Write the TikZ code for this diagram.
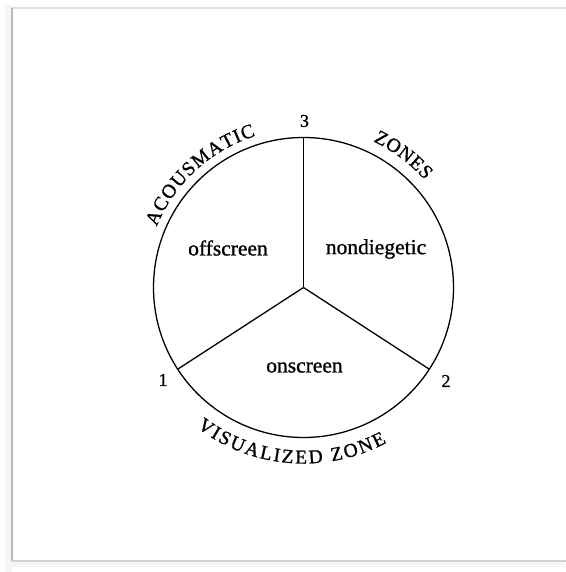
\documentclass[tikz,border=0pt]{standalone}
\usepackage{fontspec}
\setmainfont{Liberation Serif}[FakeBold=1]
\usetikzlibrary{decorations.text}
\newcommand\capfont{\fontsize{19.5}{22}\selectfont}
\begin{document}
\begin{tikzpicture}[x=1pt,y=1pt,
  ring/.style={line width=1.3pt},
  spoke/.style={line width=1.3pt},
  zone/.style={font=\fontsize{21.5}{24}\selectfont, inner sep=0pt},
  num/.style={font=\fontsize{18}{20}\selectfont, inner sep=0pt},
  arctext/.style={font=\capfont, decorate, decoration={text along path, text align=fit to path, text={|\capfont|#1}}}
]
\useasboundingbox (0,0) rectangle (565,572);
\fill[white] (0,0) rectangle (565,572);
% frame with soft shadow
\fill[gray!8] (5,0) rectangle (12,567);
\fill[gray!8] (5,5) rectangle (565,11);
\draw[gray!25, line width=1.5pt] (12,11) -- (12,564) -- (566,564);
\draw[gray!55, line width=1.8pt] (12,11) -- (12,564);
\draw[gray!35, line width=1.5pt] (12,11) -- (566,11);
% circle and spokes
\coordinate (O) at (303.5,284.5);
\draw[ring] (O) circle[radius=150];
\path (O) ++(90:150) coordinate (P3);
\path (O) ++(213:150) coordinate (P1);
\path (O) ++(-33:150) coordinate (P2);
\draw[spoke] (O) -- (P3);
\draw[spoke] (O) -- (P1);
\draw[spoke] (O) -- (P2);
% numbers
\node[num] (n3) at (304.5,451) {3};
\node[num] (n1) at (163,192) {1};
\node[num] (n2) at (446,191) {2};
% zone labels
\node[zone] (off) at (228,324) {offscreen};
\node[zone] (nond) at (376,323) {nondiegetic};
\node[zone] (on) at (304.5,204.5) {onscreen};
% curved labels
\path[arctext=ACOUSMATIC] (O) ++(157.5:159) arc[start angle=157.5, end angle=107.5, radius=159];
\path[arctext=ZONES] (O) ++(64.5:162) arc[start angle=64.5, end angle=41.5, radius=162];
\path[arctext={VISUALIZED ZONE}] (O) ++(232.7:176) arc[start angle=232.7, end angle=298.2, radius=176];
\end{tikzpicture}
\end{document}
